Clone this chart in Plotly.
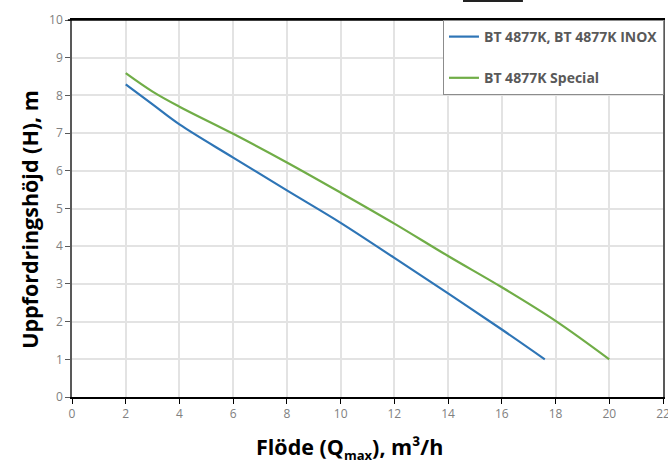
import plotly.graph_objects as go

# Data
blue_name = "BT 4877K, BT 4877K INOX"
blue_x = [2, 3, 4, 6, 8, 10, 12, 14, 16, 17.6]
blue_y = [8.29, 7.76, 7.23, 6.35, 5.48, 4.62, 3.69, 2.75, 1.79, 1.0]

green_name = "BT 4877K Special"
green_x = [2, 3, 4, 6, 8, 10, 12, 14, 16, 18, 20]
green_y = [8.59, 8.10, 7.70, 6.98, 6.22, 5.42, 4.60, 3.74, 2.91, 2.02, 1.0]

x_ticks = list(range(0, 23, 2))
y_ticks = list(range(0, 11, 1))

x_title = "Flöde (Q<sub><span style='font-size:13px'>max</span></sub>), m³/h"
y_title = "Uppfordringshöjd (H), m"

fig = go.Figure()
fig.add_trace(go.Scatter(x=blue_x, y=blue_y, mode="lines", name=blue_name,
                         line=dict(color="#2E75B6", width=2.2, shape="spline", smoothing=1.0),
                         legendgroup="a"))
fig.add_trace(go.Scatter(x=green_x, y=green_y, mode="lines", name=green_name,
                         line=dict(color="#70AD47", width=2.2, shape="spline", smoothing=1.0),
                         legendgroup="b"))

fig.update_layout(
    width=668, height=464,
    margin=dict(l=72, r=5, t=20, b=67, autoexpand=False),
    paper_bgcolor="white", plot_bgcolor="white",
    font=dict(family="Open Sans", color="#808080"),
    showlegend=True,
    legend=dict(x=0.6277, y=1, xanchor="left", yanchor="top",
                bgcolor="white", bordercolor="#8c8c8c", borderwidth=1,
                font=dict(family="Open Sans", size=14, color="#595959", weight="bold"),
                tracegroupgap=20, itemwidth=30),
    xaxis=dict(range=[0, 22], tickvals=x_ticks, ticktext=[str(v) for v in x_ticks],
               automargin=False, ticklabeloverflow="allow",
               showgrid=True, gridcolor="#e3e3e3", gridwidth=1.5, zeroline=False,
               showline=True, linecolor="#000000", linewidth=1.5, mirror=True,
               ticks="outside", ticklen=5, tickcolor="#000000",
               tickfont=dict(size=12, color="#808080")),
    yaxis=dict(range=[0, 10], tickvals=y_ticks, ticktext=[str(v) for v in y_ticks],
               automargin=False, ticklabeloverflow="allow",
               showgrid=True, gridcolor="#e3e3e3", gridwidth=1.5, zeroline=False,
               showline=True, linecolor="#595959", linewidth=1.5, mirror=True,
               ticks="outside", ticklen=5, tickcolor="#595959",
               tickfont=dict(size=12, color="#808080")),
)

# Axis titles
fig.add_annotation(text=x_title, xref="paper", yref="paper", x=0.47, y=-0.135,
                   xanchor="center", yanchor="middle", showarrow=False,
                   font=dict(family="Open Sans", size=21.5, color="#000000", weight="bold"))
fig.add_annotation(text=y_title, xref="paper", yref="paper", x=-0.071, y=0.47,
                   xanchor="center", yanchor="middle", showarrow=False, textangle=-90,
                   font=dict(family="Open Sans", size=21.5, color="#000000", weight="bold"))

# Top border in black
fig.add_shape(type="line", xref="paper", yref="paper", x0=-0.007, x1=1, y0=1, y1=1,
              line=dict(color="#000000", width=1.5))
# Cut-off dark element at very top
fig.add_shape(type="rect", xref="paper", yref="paper", x0=0.6616, x1=0.763, y0=1.048, y1=1.06,
              line=dict(width=0), fillcolor="#222222")

fig.write_html("out.html", config={"displayModeBar": False},
               post_script="document.body.style.margin='0';")
